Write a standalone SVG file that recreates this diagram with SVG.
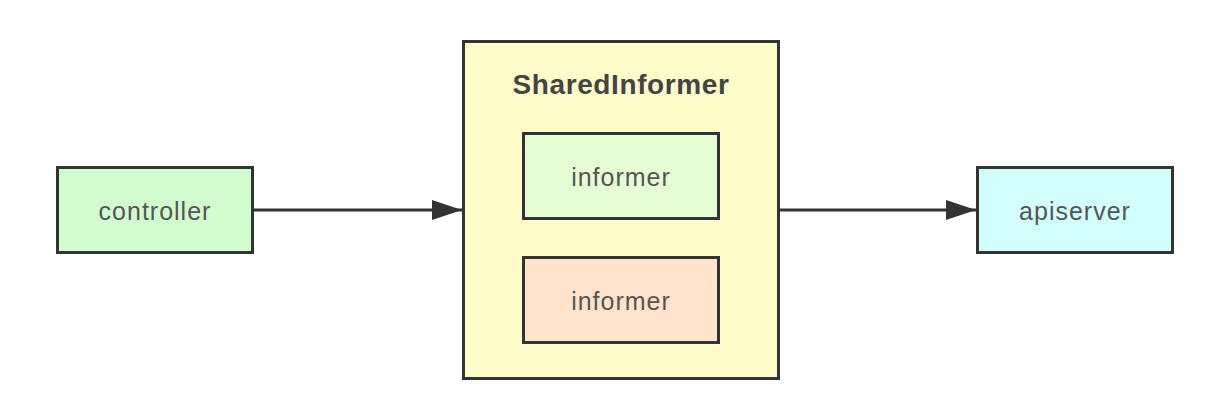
<svg xmlns="http://www.w3.org/2000/svg" width="1211" height="401" viewBox="0 0 1211 401">
<style>
.box{stroke:#333;stroke-width:3}
.lbl{font-family:"Helvetica Neue","Liberation Sans",Arial,sans-serif;font-size:25px;letter-spacing:1px;fill:#555;text-anchor:middle;dominant-baseline:central}
.title{font-family:"Liberation Sans",Arial,sans-serif;font-size:28px;font-weight:bold;letter-spacing:0.6px;fill:#444;text-anchor:middle;dominant-baseline:central}
.conn{stroke:#333;stroke-width:3;fill:none}
</style>
<defs>
<marker id="arr" markerWidth="30" markerHeight="20" refX="30" refY="10" orient="auto" markerUnits="userSpaceOnUse">
<path d="M0,0 L30,10 L0,20 Z" fill="#333"/>
</marker>
</defs>
<rect width="1211" height="401" fill="#fff"/>
<g id="controller"><rect class="box" x="57.5" y="167.5" width="195" height="85" fill="#d2fcd0"/><text class="lbl" x="155" y="211">controller</text></g>
<g id="sharedinformer"><rect class="box" x="463.5" y="41.5" width="315" height="337" fill="#fffccc"/><text class="title" x="621" y="84">SharedInformer</text></g>
<g id="informer1"><rect class="box" x="523.5" y="133.5" width="195" height="85" fill="#e6fcd4"/><text class="lbl" x="621" y="177">informer</text></g>
<g id="informer2"><rect class="box" x="523.5" y="257.5" width="195" height="85" fill="#fee4cc"/><text class="lbl" x="621" y="301">informer</text></g>
<g id="apiserver"><rect class="box" x="977.5" y="167.5" width="195" height="85" fill="#d2fefe"/><text class="lbl" x="1075" y="211">apiserver</text></g>
<g id="connectors">
<line class="conn" x1="253" y1="210" x2="462" y2="210" marker-end="url(#arr)"/>
<line class="conn" x1="780" y1="210" x2="976" y2="210" marker-end="url(#arr)"/>
</g>
</svg>
